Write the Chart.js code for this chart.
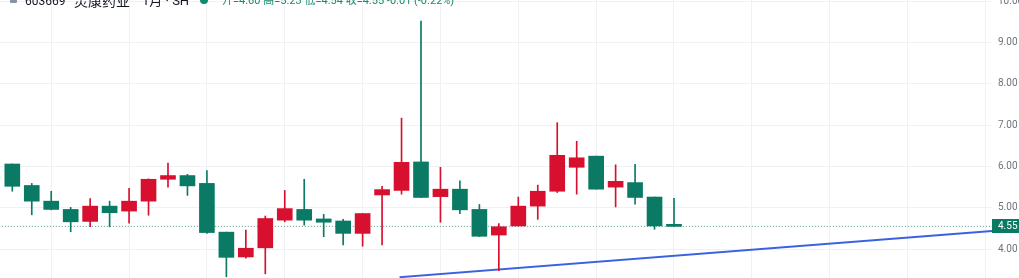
<!DOCTYPE html>
<html><head><meta charset="utf-8">
<script src="https://cdn.jsdelivr.net/npm/chart.js@4.4.1/dist/chart.umd.min.js"></script>
<style>
html,body{margin:0;padding:0;background:#fff;overflow:hidden}
#wrap{position:relative;width:1019px;height:278px;overflow:hidden}
canvas{display:block}
.lg{position:absolute;top:-6px;line-height:14px;font-size:13px;font-family:Roboto,"Noto Sans CJK SC",sans-serif;white-space:nowrap;color:#131722}
.ohlc{color:#1b8a72;font-size:11px}
</style></head><body>
<div id="wrap">
<canvas id="c" width="1019" height="278"></canvas>
<div class="lg" style="left:10px;top:-4px;width:7px;height:7px;background:#8a93a6;border-radius:1px"></div>
<div class="lg" id="t1" style="left:25px;font-size:12px"></div>
<div class="lg" id="t2" style="left:74px;font-size:14px"></div>
<div class="lg" id="t3" style="left:142px"></div>
<div class="lg" style="left:200px;top:-4px;width:8px;height:8px;border-radius:50%;background:#0f8a6e"></div>
<div class="lg ohlc" id="ohlc" style="left:222px"></div>
</div>
<script>
// ---- data ----
const symbolName = "603669";
const stockName = "灵康药业";
const periodLabel = "1月";
const exchangeLabel = "SH";
const slots  = [0,1,2,3,4,5,6,7,8,9,10,11,12,13,14,15,16,17,18,19,20,21,22,23,24,25,26,27,28,29,30,31,32,33,34];
const opens  = [6.06,5.54,5.16,4.96,4.67,5.04,4.92,5.16,5.69,5.78,5.59,4.41,3.81,4.03,4.70,4.96,4.73,4.68,4.38,5.31,5.42,6.11,5.27,5.45,4.96,4.34,4.56,5.04,5.40,5.98,6.25,5.50,5.61,5.26,4.60];
const highs  = [6.06,5.59,5.40,5.01,5.22,5.16,5.47,5.70,6.08,5.81,5.90,4.41,4.46,4.80,5.42,5.69,4.84,4.72,4.86,5.52,7.17,9.52,5.98,5.65,5.08,4.62,5.26,5.55,7.06,6.61,6.25,6.04,6.05,5.26,5.23];
const lows   = [5.40,4.83,4.95,4.42,4.54,4.54,4.63,4.82,5.50,5.30,4.38,3.33,3.78,3.40,4.66,4.58,4.30,4.10,4.07,4.10,5.33,5.25,4.65,4.86,4.30,3.48,4.56,4.72,5.37,5.33,5.45,5.02,5.09,4.48,4.54];
const closes = [5.52,5.16,4.96,4.66,5.04,4.88,5.16,5.69,5.78,5.53,4.40,3.80,4.02,4.74,4.98,4.70,4.65,4.38,4.86,5.44,6.10,5.25,5.45,4.95,4.31,4.54,5.04,5.40,6.27,6.21,5.45,5.64,5.25,4.56,4.55];
const trendSlots  = [19.9, 50.4];
const trendValues = [3.32, 4.44];
const priceTicks = [4,5,6,7,8,9,10];
const gridSlots  = [2,6,10,14,18,22,26,30,34,38,42,46,50];

// ---- styling ----
const UP = '#d6102e', DOWN = '#0a7a64', GRID = '#eff1f4';
const colorOf = i => closes[i] >= opens[i] ? UP : DOWN;
const last = closes.length - 1;
const lastClose = closes[last];

document.getElementById('t1').textContent = symbolName;
document.getElementById('t2').textContent = stockName;
document.getElementById('t3').textContent = periodLabel + ' · ' + exchangeLabel;
const chg = closes[last] - closes[last-1];
const pct = chg / closes[last-1] * 100;
const f2 = v => v.toFixed(2);
document.getElementById('ohlc').textContent =
  '开=' + f2(opens[last]) + '  高=' + f2(highs[last]) + '  低=' + f2(lows[last]) + '  收=' + f2(closes[last]) +
  '  ' + (chg>=0?'+':'') + f2(chg) + ' (' + (pct>=0?'+':'') + f2(pct) + '%)';

const priceLabel = {
  id:'priceLabel',
  afterDraw(chart){
    const ctx = chart.ctx, y = chart.scales.y.getPixelForValue(lastClose);
    ctx.save();
    ctx.fillStyle = '#0a7a64';
    ctx.fillRect(chart.chartArea.right, Math.round(y) - 7, 1019 - chart.chartArea.right, 14);
    ctx.fillStyle = '#fff';
    ctx.font = '10px Roboto, sans-serif';
    ctx.textBaseline = 'middle';
    ctx.textAlign = 'left';
    ctx.fillText(f2(lastClose), chart.chartArea.right + 6, Math.round(y));
    ctx.restore();
  }
};

new Chart(document.getElementById('c'), {
  type: 'bar',
  data: {
    datasets: [
      { type:'bar', order:0, label:'body',
        data: slots.map(i => ({x:i, y:[Math.min(opens[i],closes[i]), Math.max(opens[i],closes[i])]})),
        backgroundColor: slots.map(colorOf), barThickness:15, minBarLength:1, borderWidth:0, grouped:false },
      { type:'bar', order:1, label:'wick',
        data: slots.map(i => ({x:i, y:[lows[i], highs[i]]})),
        backgroundColor: slots.map(colorOf), barThickness:1, borderWidth:0, grouped:false },
      { type:'line', order:2, label:'trend',
        data: trendSlots.map((s,k) => ({x:s, y:trendValues[k]})),
        borderColor:'#3a62e0', borderWidth:2, pointRadius:0, tension:0 },
      { type:'line', order:3, label:'last',
        data: [{x:-1, y:lastClose}, {x:52, y:lastClose}],
        borderColor:'#4c9a8a', borderWidth:1, borderDash:[1,2], pointRadius:0 }
    ]
  },
  options: {
    responsive:false, animation:false, devicePixelRatio:1,
    layout:{padding:0},
    plugins:{legend:{display:false}, tooltip:{enabled:false}},
    scales:{
      x:{ type:'linear', min:-0.632, max:50.34, position:'bottom', offset:false,
          afterBuildTicks: s => { s.ticks = gridSlots.map(v => ({value:v})); },
          afterFit: s => { s.height = 0; s.paddingLeft = 0; s.paddingRight = 0; },
          ticks:{display:false}, border:{display:false},
          grid:{color:GRID, drawTicks:false, lineWidth:1, offset:false} },
      y:{ type:'linear', position:'right', min:3.30, max:10.03,
          afterBuildTicks: s => { s.ticks = priceTicks.map(v => ({value:v})); },
          afterFit: s => { s.width = 27; s.paddingTop = 0; s.paddingBottom = 0; },
          ticks:{ padding:6, color:'#6f727c', font:{size:10, family:'Roboto'}, callback: v => Number(v).toFixed(2) },
          border:{display:false},
          grid:{color:GRID, drawTicks:false, lineWidth:1} }
    }
  },
  plugins:[priceLabel]
});
</script>
</body></html>
